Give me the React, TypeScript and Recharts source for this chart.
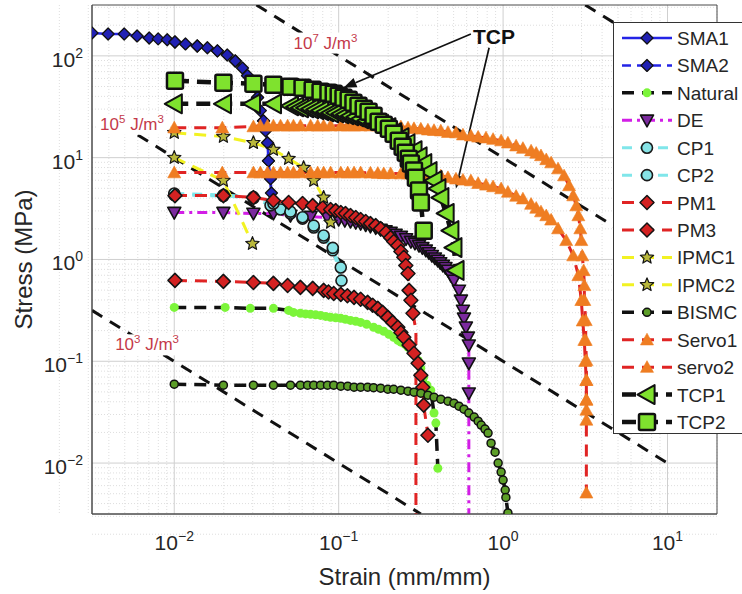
import React from "react";
import {
  LineChart,
  Line,
  XAxis,
  YAxis,
  CartesianGrid,
  ReferenceArea,
  ReferenceLine,
  ReferenceDot,
  Legend,
} from "recharts";

const FONT = "'Liberation Sans', Arial, Helvetica, sans-serif";

// axes
const X_DOMAIN: [number, number] = [0.00316, 20];
const Y_DOMAIN: [number, number] = [0.00316, 316];
const X_TICKS = [0.01, 0.1, 1, 10];
const Y_TICKS = [0.01, 0.1, 1, 10, 100];
const X_MINOR = [0.001, 0.01, 0.1, 1, 10].flatMap((d) => [2, 3, 4, 5, 6, 7, 8, 9].map((k) => k * d));
const Y_MINOR = [0.001, 0.01, 0.1, 1, 10, 100].flatMap((d) => [2, 3, 4, 5, 6, 7, 8, 9].map((k) => k * d));
const X_ALL = [...X_TICKS, ...X_MINOR].filter((v) => v >= X_DOMAIN[0] && v <= X_DOMAIN[1]);
const Y_ALL = [...Y_TICKS, ...Y_MINOR].filter((v) => v >= Y_DOMAIN[0] && v <= Y_DOMAIN[1]);

// strain (mm/mm), stress (MPa)
const SMA1 = [[0.00316,168],[0.00396,164],[0.00496,164],[0.00594,157],[0.00704,150],[0.00798,147],[0.00906,144],[0.0101,137],[0.0117,131],[0.0138,125],[0.0159,120],[0.0183,112],[0.021,102],[0.0235,89],[0.026,76],[0.0279,64],[0.0299,52],[0.0321,39],[0.0334,29],[0.0349,23],[0.0359,18.4],[0.0369,14],[0.0374,9.3],[0.0385,6.2],[0.039,4.5],[0.0396,3.4]];
const SMA2 = [[0.0101,137],[0.0138,125],[0.0183,112],[0.0235,89],[0.0279,64],[0.0321,39],[0.0349,23],[0.0374,9.3],[0.0396,3.4]];
const NATURAL = [[0.01,0.338],[0.0204,0.338],[0.029,0.331],[0.0401,0.331],[0.0496,0.316],[0.0531,0.302],[0.0585,0.296],[0.0629,0.292],[0.0675,0.289],[0.0724,0.286],[0.0776,0.282],[0.0834,0.276],[0.0893,0.27],[0.0959,0.267],[0.103,0.264],[0.11,0.258],[0.118,0.252],[0.127,0.247],[0.136,0.241],[0.148,0.231],[0.163,0.216],[0.175,0.206],[0.188,0.197],[0.202,0.184],[0.216,0.172],[0.229,0.161],[0.239,0.154],[0.253,0.147],[0.264,0.137],[0.283,0.12],[0.304,0.102],[0.316,0.0854],[0.329,0.0699],[0.344,0.0582],[0.363,0.052],[0.38,0.031],[0.39,0.0247],[0.401,0.0089]];
const DE = [[0.01,2.89],[0.0199,2.89],[0.0303,2.83],[0.0401,2.83],[0.0509,2.7],[0.0675,2.64],[0.0855,2.58],[0.1,2.47],[0.109,2.41],[0.118,2.36],[0.127,2.3],[0.136,2.25],[0.146,2.18],[0.156,2.11],[0.168,2.04],[0.18,1.97],[0.193,1.9],[0.207,1.84],[0.222,1.76],[0.239,1.68],[0.257,1.59],[0.275,1.5],[0.291,1.44],[0.308,1.37],[0.323,1.3],[0.339,1.23],[0.354,1.16],[0.369,1.09],[0.385,1.03],[0.401,0.977],[0.415,0.925],[0.43,0.873],[0.446,0.83],[0.462,0.78],[0.481,0.697],[0.502,0.623],[0.539,0.497],[0.554,0.397],[0.57,0.316],[0.578,0.264],[0.594,0.216],[0.611,0.172],[0.619,0.144],[0.619,0.0956],[0.619,0.0486]];
const DE_TAIL = [[0.619,0.0486],[0.619,0.001]];
const CP1 = [[0.01,4.3],[0.0199,4.2],[0.0303,4.0],[0.0385,3.4],[0.0443,3.1],[0.0509,2.83],[0.0603,2.52],[0.0705,2.06],[0.081,1.64],[0.0921,1.23],[0.103,0.835]];
const CP2 = [[0.01,4.45],[0.0199,4.3],[0.0303,4.1],[0.0401,3.55],[0.0509,2.95],[0.0603,2.6],[0.0705,2.15],[0.081,1.72],[0.0921,1.3],[0.104,0.62]];
const PM1 = [[0.0101,4.24],[0.0199,4.24],[0.0303,4.06],[0.0401,3.79],[0.0496,3.62],[0.0603,3.54],[0.0695,3.38],[0.0798,3.23],[0.0893,3.09],[0.0959,3.02],[0.103,2.89],[0.11,2.83],[0.118,2.7],[0.127,2.58],[0.136,2.47],[0.146,2.36],[0.156,2.25],[0.168,2.15],[0.18,2.01],[0.194,1.84],[0.207,1.64],[0.216,1.5],[0.229,1.37],[0.239,1.2],[0.249,1.05],[0.256,0.873],[0.264,0.729],[0.268,0.497],[0.275,0.397],[0.283,0.296]];
const PM1_TAIL = [[0.283,0.296],[0.295,0.2],[0.295,0.001]];
const PM3 = [[0.0101,0.623],[0.0199,0.609],[0.0303,0.595],[0.0401,0.582],[0.0489,0.556],[0.0585,0.532],[0.0695,0.52],[0.081,0.497],[0.0867,0.48],[0.0933,0.464],[0.103,0.454],[0.113,0.44],[0.124,0.424],[0.136,0.406],[0.15,0.379],[0.161,0.355],[0.173,0.331],[0.185,0.302],[0.199,0.27],[0.213,0.241],[0.229,0.216],[0.239,0.192],[0.249,0.172],[0.268,0.144],[0.287,0.12],[0.304,0.0956],[0.316,0.0729],[0.325,0.0556],[0.329,0.0371],[0.349,0.0188]];
const IPMC1 = [[0.01,17.6],[0.0199,16.1],[0.0303,14],[0.0401,12],[0.0496,9.77],[0.0612,7.97],[0.0705,5.95],[0.081,4.06],[0.0893,2.31]];
const IPMC2 = [[0.01,10],[0.0199,5.95],[0.0299,1.43]];
const BISMC = [[0.01,0.0595],[0.0199,0.0582],[0.0303,0.0582],[0.0401,0.0582],[0.0509,0.0582],[0.0585,0.0582],[0.0647,0.0582],[0.0705,0.0582],[0.0776,0.0582],[0.0855,0.0582],[0.0933,0.0582],[0.103,0.0569],[0.1135,0.0569],[0.124,0.0556],[0.136,0.0556],[0.15,0.0556],[0.163,0.055],[0.18,0.0544],[0.199,0.0531],[0.216,0.0531],[0.239,0.052],[0.264,0.0508],[0.287,0.0497],[0.316,0.0486],[0.349,0.0464],[0.38,0.0444],[0.418,0.0424],[0.462,0.0405],[0.502,0.0388],[0.539,0.0362],[0.578,0.0338],[0.619,0.031],[0.667,0.0283],[0.705,0.0258],[0.736,0.0236],[0.776,0.0216],[0.81,0.0197],[0.845,0.0157],[0.894,0.0128],[0.933,0.01],[0.973,0.00816],[1.0,0.0068],[1.03,0.00544],[1.04,0.0046],[1.07,0.00324]];
const SERVO1 = [[0.01,19.7],[0.0196,19.7],[0.0303,20.2],[0.0334,20.6],[0.0369,20.6],[0.0401,20.6],[0.0443,20.6],[0.0489,20.6],[0.0531,20.6],[0.0585,20.6],[0.0675,20.6],[0.0745,20.6],[0.081,20.6],[0.0893,20.6],[0.103,20.6],[0.1135,20.6],[0.124,20.6],[0.136,20.6],[0.156,20.6],[0.173,20.6],[0.188,20.4],[0.207,20.2],[0.239,20.2],[0.264,19.7],[0.287,19.4],[0.316,19.2],[0.349,18.8],[0.38,18.6],[0.418,18.4],[0.462,17.8],[0.517,17.6],[0.57,16.8],[0.637,16.4],[0.705,16],[0.787,15.7],[0.869,15.2],[0.973,14.7],[1.07,14],[1.2,13.1],[1.32,12.4],[1.48,11.7],[1.59,11.1],[1.7,10.5],[1.83,9.6],[1.96,8.93],[2.16,7.8],[2.35,6.66],[2.52,5.32],[2.67,4.24],[2.79,3.38],[2.87,2.7],[2.95,2.01],[2.99,1.54],[3.03,1.09],[3.09,0.78],[3.12,0.556],[3.12,0.397],[3.18,0.252],[3.18,0.161],[3.21,0.102],[3.21,0.0651],[3.21,0.0415],[3.21,0.0332]];
const SERVO2 = [[0.01,7.13],[0.0196,7.13],[0.0303,7.13],[0.0334,7.13],[0.0369,7.13],[0.0401,7.13],[0.0443,7.13],[0.0489,7.13],[0.0531,7.13],[0.0585,7.13],[0.0675,7.13],[0.0745,7.13],[0.081,7.13],[0.0893,7.13],[0.103,7.13],[0.1135,7.13],[0.124,7.13],[0.136,7.13],[0.156,7.1],[0.173,7.05],[0.188,7],[0.207,7],[0.239,6.97],[0.264,6.97],[0.287,6.9],[0.316,6.9],[0.349,6.8],[0.38,6.75],[0.418,6.66],[0.462,6.4],[0.517,6.2],[0.57,6.05],[0.637,5.95],[0.705,5.6],[0.787,5.4],[0.869,5.2],[0.973,4.97],[1.07,4.6],[1.2,4.2],[1.32,3.95],[1.48,3.5],[1.59,3.2],[1.7,2.95],[1.83,2.7],[1.96,2.45],[2.16,2.01],[2.42,1.54],[2.67,1.09],[2.87,0.697],[2.99,0.397],[3.05,0.25],[3.12,0.161],[3.16,0.1],[3.21,0.0651],[3.21,0.042],[3.21,0.0265],[3.21,0.0051]];
const TCP1 = [[0.01,33.8],[0.0199,33.8],[0.0299,33.8],[0.0401,33.8],[0.0509,32.3],[0.0547,31.6],[0.0585,30.9],[0.0629,30.9],[0.0675,30.2],[0.0724,29.6],[0.0776,28.9],[0.0834,28.2],[0.0893,27.6],[0.0959,27.6],[0.103,27],[0.11,26.4],[0.118,25.8],[0.127,25.2],[0.136,24.1],[0.148,23.1],[0.163,22.1],[0.18,21.1],[0.199,19.7],[0.216,17.6],[0.239,15.7],[0.26,13.7],[0.287,11.7],[0.308,10.2],[0.329,8.74],[0.354,7.29],[0.38,5.95],[0.401,4.97],[0.418,4.06],[0.45,2.83],[0.481,1.92],[0.502,1.31],[0.517,0.78]];
const TCP2 = [[0.0101,56.9],[0.0199,54.4],[0.0303,53.2],[0.0401,52],[0.0509,49.8],[0.0603,48.6],[0.0695,46.4],[0.0776,44.4],[0.0867,43.4],[0.0933,42.4],[0.1,40.5],[0.107,38.8],[0.115,37],[0.123,34.6],[0.132,32.3],[0.142,30.2],[0.152,28.2],[0.163,25.8],[0.175,22.5],[0.188,21.1],[0.202,19.2],[0.216,17.2],[0.232,14.7],[0.245,12.8],[0.256,11.2],[0.267,9.77],[0.275,8.74],[0.287,7.46],[0.295,6.36],[0.308,4.75],[0.316,3.62],[0.329,1.92]];

// constant work-density guide lines (MJ/m3 = MPa * strain)
const E3 = [[0.00316,0.316],[0.316,0.00316]];
const E5 = [[0.006,16.7],[10,0.01]];
const E7 = [[0.0316,316],[10,1]];
const E9 = [[3.16,316],[20,50]];

const ENERGY_LABELS = [
  { x: 0.0531, y: 118, exp: "7" },
  { x: 0.00354, y: 18.8, exp: "5" },
  { x: 0.00437, y: 0.128, exp: "3" },
];
const TCP_LABEL = { x: 0.656, y: 131 };
const ARROWS = [
  { from: [0.637, 164], to: [0.107, 48.6] },
  { from: [0.822, 120], to: [0.517, 4.97] },
];

const rows = (pts: number[][]) => pts.map(([x, y]) => ({ x, y }));

const SMA_M = { kind: "diamond", r: 6, fill: "#2121b4", stroke: "#111", sw: 1.3 };
const CP_M = { kind: "circle", r: 5.5, fill: "#86e3e6", stroke: "#1a1a1a", sw: 1.6 };
const PM_M = { kind: "diamond", r: 7, fill: "#d42222", stroke: "#141414", sw: 1.5 };
const IPMC_M = { kind: "star", r: 7, fill: "#b9b83c", stroke: "#141414", sw: 1.2 };
const SERVO_M = { kind: "triUp", r: 6.5, fill: "#ef7d22", stroke: "#ef7d22", sw: 0.6 };
const TCP_FILL = "#7fe22e";

const SERIES = [
  { name: "SMA1", data: SMA1, stroke: "#2424e6", width: 2.5, dash: undefined, m: SMA_M },
  { name: "SMA2", data: SMA2, stroke: "#2424e6", width: 2.5, dash: "9 6", m: SMA_M },
  { name: "Natural", data: NATURAL, stroke: "#111", width: 3.5, dash: "12 8", m: { kind: "circle", r: 4.5, fill: "#7cf53a", stroke: "none", sw: 0 } },
  { name: "DE", data: DE, stroke: "#d21ee6", width: 3, dash: "10 5 3 5", m: { kind: "triDown", r: 6.5, fill: "#7b2a9e", stroke: "#111", sw: 1.6 }, tail: DE_TAIL },
  { name: "CP1", data: CP1, stroke: "#80e6ea", width: 3, dash: "10 8", m: CP_M },
  { name: "CP2", data: CP2, stroke: "#80e6ea", width: 3, dash: "10 8", m: CP_M },
  { name: "PM1", data: PM1, stroke: "#e02424", width: 3, dash: "12 8", m: PM_M, tail: PM1_TAIL },
  { name: "PM3", data: PM3, stroke: "#e02424", width: 3, dash: "12 8", m: PM_M },
  { name: "IPMC1", data: IPMC1, stroke: "#f2f222", width: 3, dash: "12 8", m: IPMC_M },
  { name: "IPMC2", data: IPMC2, stroke: "#f2f222", width: 3, dash: "12 8", m: IPMC_M },
  { name: "BISMC", data: BISMC, stroke: "#111", width: 3.5, dash: "12 8", m: { kind: "circle", r: 4, fill: "#5c9e28", stroke: "#111", sw: 1.5 } },
  { name: "Servo1", data: SERVO1, stroke: "#e02424", width: 3, dash: "12 8", m: SERVO_M },
  { name: "servo2", data: SERVO2, stroke: "#e02424", width: 3, dash: "12 8", m: SERVO_M },
  { name: "TCP1", data: TCP1, stroke: "#111", width: 4.5, dash: "14 8", m: { kind: "triLeft", r: 9.5, fill: TCP_FILL, stroke: "#111", sw: 2 } },
  { name: "TCP2", data: TCP2, stroke: "#111", width: 4.5, dash: "14 8", m: { kind: "square", r: 8, fill: TCP_FILL, stroke: "#111", sw: 2.5 } },
];

function Marker({ m, cx, cy }: any) {
  const { kind, r, fill, stroke, sw } = m;
  const st = { fill, stroke, strokeWidth: sw, strokeLinejoin: "round" as const };
  if (kind === "circle") return <circle cx={cx} cy={cy} r={r} {...st} />;
  if (kind === "square") return <rect x={cx - r} y={cy - r} width={2 * r} height={2 * r} rx={1.5} {...st} />;
  let pts: number[][] = [];
  if (kind === "diamond") pts = [[0, -r], [r, 0], [0, r], [-r, 0]];
  if (kind === "triUp") pts = [[0, -r], [r, r * 0.8], [-r, r * 0.8]];
  if (kind === "triDown") pts = [[-r, -r * 0.8], [r, -r * 0.8], [0, r]];
  if (kind === "triLeft") pts = [[-r, 0], [r * 0.8, -r], [r * 0.8, r]];
  if (kind === "star") {
    for (let i = 0; i < 10; i++) {
      const a = (-90 + i * 36) * (Math.PI / 180);
      const rr = i % 2 ? r * 0.45 : r;
      pts.push([rr * Math.cos(a), rr * Math.sin(a)]);
    }
  }
  return <polygon points={pts.map(([dx, dy]) => `${cx + dx},${cy + dy}`).join(" ")} {...st} />;
}

const dotFor = (name: string, m: any) => (p: any) => {
  const key = `${name}-${p.index}`;
  if (p.cx == null || p.cy == null || !isFinite(p.cx) || !isFinite(p.cy)) return <g key={key} />;
  return (
    <g key={key}>
      <Marker m={m} cx={p.cx} cy={p.cy} />
    </g>
  );
};

const expText = (v: number) => {
  const e = Math.round(Math.log10(v));
  return e < 0 ? `\u2212${-e}` : `${e}`;
};

const XTick = ({ x, y, payload }: any) => (
  <text x={x} y={y + 36} textAnchor="middle" fontSize={21} fill="#262626" fontFamily={FONT}>
    10<tspan dy={-9} fontSize={14}>{expText(payload.value)}</tspan>
  </text>
);

const YTick = ({ x, y, payload }: any) => (
  <text x={x} y={y + 11} textAnchor="end" fontSize={21} fill="#262626" fontFamily={FONT}>
    10<tspan dy={-9} fontSize={14}>{expText(payload.value)}</tspan>
  </text>
);

const Arrow = (p: any) => {
  const { x1, y1, x2, y2 } = p;
  if (![x1, y1, x2, y2].every((v) => isFinite(v))) return <g />;
  const a = Math.atan2(y2 - y1, x2 - x1);
  const L = 13;
  const W = 5;
  const bx = x2 - L * Math.cos(a);
  const by = y2 - L * Math.sin(a);
  const head = `${x2},${y2} ${bx + W * Math.sin(a)},${by - W * Math.cos(a)} ${bx - W * Math.sin(a)},${by + W * Math.cos(a)}`;
  return (
    <g>
      <line x1={x1} y1={y1} x2={bx} y2={by} stroke="#111" strokeWidth={1.7} />
      <polygon points={head} fill="#111" />
    </g>
  );
};

const LegendBox = () => (
  <div
    style={{
      width: 129,
      height: 412,
      boxSizing: "border-box",
      background: "#fff",
      borderTop: "1.5px solid #333",
      borderLeft: "1.5px solid #333",
      borderBottom: "1.5px solid #333",
    }}
  >
    <svg width={128} height={410} style={{ display: "block" }}>
      {SERIES.map((s, i) => {
        const cy = 15 + i * 27.43;
        return (
          <g key={s.name}>
            <line x1={8} x2={58} y1={cy} y2={cy} stroke={s.stroke} strokeWidth={s.width} strokeDasharray={s.dash} />
            <Marker m={s.m} cx={33} cy={cy} />
            <text x={63} y={cy + 7} fontSize={19} fill="#262626" fontFamily={FONT}>
              {s.name}
            </text>
          </g>
        );
      })}
    </svg>
  </div>
);

const tickAxis = { type: "number" as const, scale: "log" as const, allowDataOverflow: true, interval: 0, mirror: true, tick: false, tickSize: 4, tickLine: { stroke: "#4a4a4a" }, axisLine: false };

export default function App() {
  return (
    <div style={{ position: "absolute", left: 0, top: 0, width: 742, height: 594, background: "#fff" }}>
      <LineChart width={742} height={594} margin={{ top: 5, right: 25, bottom: 40, left: 32 }} style={{ fontFamily: FONT }}>
        <CartesianGrid verticalValues={X_MINOR} horizontalValues={Y_MINOR} stroke="#dedede" strokeDasharray="1 2" />
        <CartesianGrid verticalValues={X_TICKS} horizontalValues={Y_TICKS} stroke="#cfcfcf" />
        <XAxis xAxisId="tb" {...tickAxis} domain={X_DOMAIN} ticks={X_ALL} height={0} />
        <XAxis xAxisId="tt" orientation="top" {...tickAxis} domain={X_DOMAIN} ticks={X_ALL} height={0} />
        <YAxis yAxisId="yl" {...tickAxis} domain={Y_DOMAIN} ticks={Y_ALL} width={0} />
        <YAxis yAxisId="yr" orientation="right" {...tickAxis} domain={Y_DOMAIN} ticks={Y_ALL} width={0} />
        <XAxis
          type="number"
          dataKey="x"
          scale="log"
          domain={X_DOMAIN}
          ticks={X_TICKS}
          allowDataOverflow
          interval={0}
          height={40}
          tickSize={0}
          tickMargin={0}
          tickLine={false}
          tick={XTick}
          axisLine={{ stroke: "#4a4a4a" }}
          label={{ value: "Strain (mm/mm)", position: "bottom", offset: 14, fontSize: 24, fill: "#262626" }}
        />
        <YAxis
          type="number"
          dataKey="y"
          scale="log"
          domain={Y_DOMAIN}
          ticks={Y_TICKS}
          allowDataOverflow
          interval={0}
          width={60}
          tickSize={0}
          tickMargin={9}
          tickLine={false}
          tick={YTick}
          axisLine={{ stroke: "#4a4a4a" }}
          label={{
            content: (p: any) => {
              const vb = p.viewBox || { x: 32, y: 5, height: 509 };
              return (
                <text
                  transform={`translate(${vb.x}, ${vb.y + vb.height / 2}) rotate(-90)`}
                  textAnchor="middle"
                  fontSize={24}
                  fill="#262626"
                  fontFamily={FONT}
                >
                  Stress (MPa)
                </text>
              );
            },
          }}
        />
        {[E3, E5, E7, E9].map((e, i) => (
          <Line
            key={`e${i}`}
            data={rows(e)}
            dataKey="y"
            stroke="#111"
            strokeWidth={3}
            strokeDasharray="12 9"
            dot={false}
            activeDot={false}
            isAnimationActive={false}
          />
        ))}
        {SERIES.flatMap((s) => {
          const out = [
            <Line
              key={s.name}
              name={s.name}
              data={rows(s.data)}
              dataKey="y"
              stroke={s.stroke}
              strokeWidth={s.width}
              strokeDasharray={s.dash}
              dot={dotFor(s.name, s.m)}
              activeDot={false}
              isAnimationActive={false}
            />,
          ];
          if (s.tail)
            out.push(
              <Line
                key={`${s.name}-tail`}
                data={rows(s.tail)}
                dataKey="y"
                stroke={s.stroke}
                strokeWidth={s.width}
                strokeDasharray={s.dash}
                dot={false}
                activeDot={false}
                isAnimationActive={false}
              />
            );
          return out;
        })}
        <ReferenceArea
          x1={X_DOMAIN[0]}
          x2={X_DOMAIN[1]}
          y1={Y_DOMAIN[0]}
          y2={Y_DOMAIN[1]}
          fill="none"
          fillOpacity={0}
          stroke="#4a4a4a"
          strokeWidth={1}
          ifOverflow="visible"
        />
        {ARROWS.map((a, i) => (
          <ReferenceLine
            key={`arrow${i}`}
            segment={[
              { x: a.from[0], y: a.from[1] },
              { x: a.to[0], y: a.to[1] },
            ]}
            ifOverflow="visible"
            shape={Arrow}
          />
        ))}
        {ENERGY_LABELS.map((l) => (
          <ReferenceDot
            key={`lab${l.exp}`}
            x={l.x}
            y={l.y}
            r={0}
            ifOverflow="visible"
            shape={(p: any) => (
              <g>
                <rect x={p.cx - 2} y={p.cy - 16} width={70} height={21} fill="#fff" />
                <text x={p.cx} y={p.cy} fontSize={17} fill="#c43a4a" fontFamily={FONT}>
                  10<tspan dy={-7} fontSize={11.5}>{l.exp}</tspan>
                  <tspan dy={7}> J/m</tspan>
                  <tspan dy={-7} fontSize={11.5}>3</tspan>
                </text>
              </g>
            )}
          />
        ))}
        <ReferenceDot
          x={TCP_LABEL.x}
          y={TCP_LABEL.y}
          r={0}
          ifOverflow="visible"
          shape={(p: any) => (
            <text x={p.cx} y={p.cy} fontSize={21} fontWeight="bold" fill="#111" fontFamily={FONT}>
              TCP
            </text>
          )}
        />
        <Legend
          layout="vertical"
          align="center"
          verticalAlign="middle"
          content={LegendBox}
          wrapperStyle={{ left: 613, top: 22, width: 129, height: 412 }}
        />
      </LineChart>
    </div>
  );
}
